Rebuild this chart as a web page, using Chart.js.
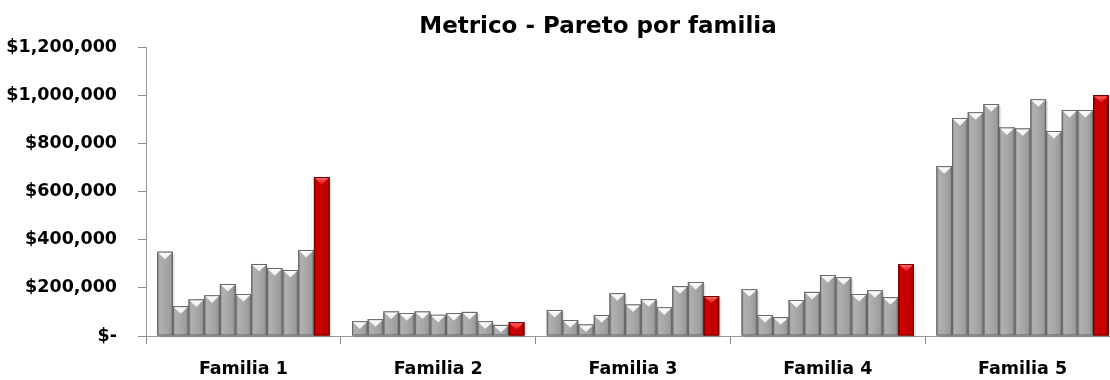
<!DOCTYPE html>
<html>
<head>
<meta charset="utf-8">
<script src="https://cdn.jsdelivr.net/npm/chart.js@4.4.1/dist/chart.umd.min.js"></script>
<style>
  html, body { margin: 0; padding: 0; overflow: hidden; background: #ffffff; }
  #wrap { position: relative; width: 1122px; height: 380px; }
  #title { position: absolute; left: 598px; top: 14px; transform: translateX(-50%);
           font: bold 23px "DejaVu Sans", sans-serif; line-height: 23px; white-space: nowrap; color: #000; }
  canvas { position: absolute; left: 0; top: 0; }
</style>
</head>
<body>
<div id="wrap">
  <canvas id="c" width="1122" height="380"></canvas>
  <div id="title">Metrico - Pareto por familia</div>
</div>
<script>
const categories = ['Familia 1', 'Familia 2', 'Familia 3', 'Familia 4', 'Familia 5'];
const familia1 = [350000, 124000, 152000, 169000, 216000, 174000, 299000, 282000, 274000, 357000, 660000];
const familia2 = [61000, 70000, 102000, 95000, 102000, 88000, 95000, 100000, 61000, 46000, 57000];
const familia3 = [108000, 66000, 48000, 87000, 178000, 131000, 153000, 119000, 207000, 224000, 166000];
const familia4 = [194000, 87000, 78000, 149000, 183000, 253000, 244000, 174000, 190000, 161000, 299000];
const familia5 = [705000, 905000, 929000, 963000, 866000, 862000, 983000, 851000, 938000, 938000, 1000000];
const yTicks = [0, 200000, 400000, 600000, 800000, 1000000, 1200000];

const families = [familia1, familia2, familia3, familia4, familia5];
const nSeries = familia1.length;
const datasets = [];
for (let i = 0; i < nSeries; i++) {
  const isTotal = i === nSeries - 1;
  datasets.push({
    label: 'Serie ' + (i + 1),
    data: families.map(f => f[i]),
    backgroundColor: isTotal ? '#c00000' : '#a0a0a0',
    borderWidth: 0,
    barPercentage: 1.0,
    categoryPercentage: 0.885,
    isTotal: isTotal
  });
}

const bevelPlugin = {
  id: 'bevel',
  afterDatasetsDraw(chart) {
    const ctx = chart.ctx;
    chart.data.datasets.forEach((ds, di) => {
      const meta = chart.getDatasetMeta(di);
      meta.data.forEach(bar => {
        const p = bar.getProps(['x', 'y', 'base', 'width'], true);
        const l = p.x - p.width / 2, r = p.x + p.width / 2;
        const t = Math.min(p.y, p.base), b = Math.max(p.y, p.base);
        const w = r - l, h = b - t;
        if (h <= 0) return;
        ctx.save();
        ctx.fillStyle = 'rgba(0,0,0,0.10)';
        ctx.fillRect(l + 2, t + 2, w, h);
        const g = ctx.createLinearGradient(l, 0, r, 0);
        if (ds.isTotal) {
          g.addColorStop(0, '#8a0000');
          g.addColorStop(0.15, '#cc0000');
          g.addColorStop(0.5, '#c80000');
          g.addColorStop(0.85, '#bb0000');
          g.addColorStop(1, '#7a0000');
        } else {
          g.addColorStop(0, '#828282');
          g.addColorStop(0.15, '#b0b0b0');
          g.addColorStop(0.5, '#a8a8a8');
          g.addColorStop(0.85, '#9c9c9c');
          g.addColorStop(1, '#727272');
        }
        ctx.fillStyle = g;
        ctx.fillRect(l, t, w, h);
        ctx.strokeStyle = ds.isTotal ? '#700000' : '#666666';
        ctx.lineWidth = 1;
        ctx.strokeRect(l + 0.5, t + 0.5, w - 1, h - 1);
        const th = Math.min(w * 0.42, h - 1.5);
        const tg = ctx.createLinearGradient(0, t, 0, t + th);
        if (ds.isTotal) {
          tg.addColorStop(0, '#ff7070');
          tg.addColorStop(1, '#e41818');
        } else {
          tg.addColorStop(0, '#ffffff');
          tg.addColorStop(1, '#f0f0f0');
        }
        ctx.fillStyle = tg;
        ctx.beginPath();
        ctx.moveTo(l + 1, t + 1);
        ctx.lineTo(r - 1, t + 1);
        ctx.lineTo(p.x, t + 1 + th);
        ctx.closePath();
        ctx.fill();
        ctx.restore();
      });
    });
  }
};

const fontTicks = { family: 'DejaVu Sans', weight: 'bold', size: 17.5 };

new Chart(document.getElementById('c'), {
  type: 'bar',
  data: { labels: categories, datasets: datasets },
  options: {
    responsive: false,
    animation: false,
    layout: { padding: { top: 47, left: 0, right: 2, bottom: 0 } },
    plugins: {
      legend: { display: false },
      title: { display: false },
      tooltip: { enabled: false }
    },
    scales: {
      x: {
        afterFit(scale) { scale.height = 44; },
        grid: { display: true, drawOnChartArea: false, drawTicks: true, tickLength: 8, color: '#8c8c8c', offset: true },
        border: { display: true, color: '#9a9a9a', width: 1 },
        ticks: { font: fontTicks, color: '#000000', padding: 15 }
      },
      y: {
        min: 0,
        max: 1200000,
        afterFit(scale) { scale.width = 146; },
        afterBuildTicks(scale) { scale.ticks = yTicks.map(v => ({ value: v })); },
        grid: { display: true, drawOnChartArea: false, drawTicks: true, tickLength: 8, color: '#8c8c8c' },
        border: { display: true, color: '#9a9a9a', width: 1 },
        ticks: {
          font: fontTicks,
          color: '#000000',
          padding: 21,
          callback: v => v === 0 ? '$-' : '$' + Number(v).toLocaleString('en-US')
        }
      }
    }
  },
  plugins: [bevelPlugin]
});
</script>
</body>
</html>
